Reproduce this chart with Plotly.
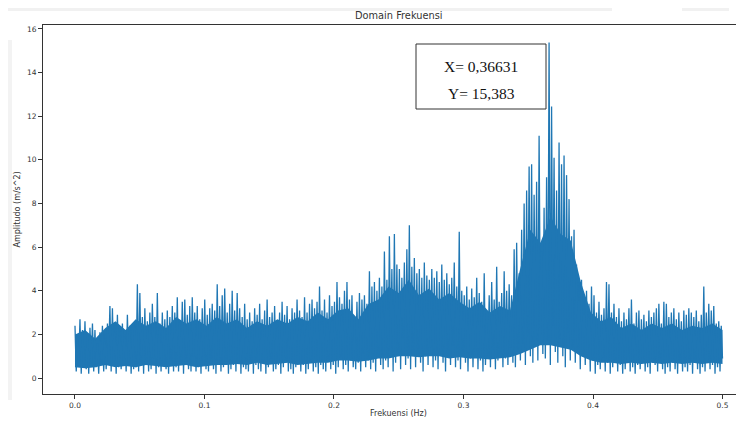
import plotly.graph_objects as go

# Upper (peak) amplitudes, left to right (m/s^2)
puncak = [
    2.4, 1.6, 2.7, 2.2,  2.6, 2.0, 2.3, 2.5,  2.2, 1.6, 2.1, 2.4,  2.0, 2.5, 3.3, 3.2,
    2.4, 2.9, 2.2, 2.5,  2.0, 2.9, 2.4, 2.2,  2.6, 4.3, 3.9, 2.8,  3.2, 2.6, 3.0, 3.4,
    2.8, 3.9, 2.5, 3.0,  2.7, 3.1, 2.8, 3.3,  3.0, 3.7, 2.6, 3.5,  3.6, 2.9, 3.3, 3.7,
    3.0, 3.3, 2.7, 3.2,  3.6, 2.9, 3.2, 3.4,  3.1, 4.3, 3.3, 3.8,  4.1, 3.0, 3.4, 4.0,
    3.1, 3.9, 3.2, 2.8,  3.4, 2.7, 3.0, 2.6,  3.2, 2.9, 3.4, 2.7,  3.1, 3.6, 2.8, 3.0,
    3.3, 2.6, 3.0, 3.5,  2.9, 3.3, 2.7, 3.2,  3.0, 3.6, 3.1, 2.8,  3.7, 3.0, 3.4, 3.6,
    3.2, 3.5, 4.2, 3.1,  3.6, 3.0, 3.8, 3.3,  3.5, 4.4, 3.7, 3.4,  4.0, 4.4, 3.6, 3.8,
    2.2, 3.5, 3.9, 3.6,  3.8, 3.4, 4.9, 4.2,  4.4, 4.0, 4.6, 4.2,  5.8, 4.5, 6.5, 5.0,
    6.6, 5.2, 5.0, 4.6,  5.3, 5.9, 7.0, 5.1,  5.5, 4.8, 5.0, 4.6,  5.3, 4.7, 4.5, 5.0,
    4.6, 4.9, 4.4, 5.2,  4.5, 4.8, 4.3, 4.6,  5.3, 4.2, 6.7, 4.0,  3.8, 4.2, 3.6, 4.1,
    3.7, 4.6, 3.9, 3.5,  4.8, 2.5, 3.8, 4.4,  3.6, 5.1, 3.5, 3.9,  4.9, 4.0, 4.3, 3.8,
    5.9, 6.2, 4.8, 6.8,  8.0, 8.6, 9.7, 9.8,  8.4, 9.0, 11.1, 5.8,  7.8, 9.2, 15.383, 12.45,
    10.1, 8.6, 10.8, 9.8,  10.2, 9.3, 8.2, 6.5,  6.8, 5.2, 4.4, 4.5,  3.6, 4.0, 3.4, 4.2,
    3.8, 3.0, 3.5, 2.9,  3.2, 4.4, 4.3, 3.0,  3.4, 2.8, 3.2, 2.6,  3.0, 2.7, 3.2, 3.6,
    2.5, 3.0, 3.1, 2.7,  2.9, 2.6, 3.1, 2.8,  3.0, 3.2, 3.4, 2.5,  3.5, 3.4, 2.8, 3.0,
    3.2, 2.7, 3.0, 2.6,  3.1, 2.9, 3.2, 3.0,  2.8, 3.1, 2.6, 2.9,  4.2, 3.0, 3.4, 3.1,
    3.3, 2.5, 2.6, 2.4,
]

# Lower (trough) amplitudes, left to right (m/s^2)
dasar = [
    0.3, 0.8, 0.2, 0.5,  0.4, 0.2, 0.6, 0.3,  0.5, 0.2, 0.7, 0.3,  0.4, 1.1, 0.3, 0.6,
    0.2, 0.5, 0.4, 0.8,  0.3, 0.6, 0.2, 0.4,  0.5, 0.3, 0.7, 0.2,  0.6, 0.3, 0.4, 0.9,
    0.2, 0.5, 0.3, 0.6,  0.4, 0.2, 0.8, 0.3,  0.5, 0.3, 0.6, 0.2,  0.7, 0.4, 0.3, 1.0,
    0.3, 0.5, 0.2, 0.6,  0.4, 0.3, 0.8, 0.4,  0.2, 0.6, 0.3, 0.5,  0.7, 0.2, 0.4, 0.6,
    0.3, 0.8, 0.2, 0.5,  0.4, 0.3, 0.7, 0.2,  0.6, 0.4, 0.3, 0.8,  0.2, 0.5, 0.9, 0.3,
    0.4, 0.6, 0.2, 0.5,  0.7, 0.3, 0.4, 0.2,  0.5, 0.8, 0.3, 0.6,  0.2, 0.4, 0.7, 0.3,
    0.5, 0.2, 0.6, 0.4,  0.3, 0.9, 0.4, 0.6,  0.2, 0.5, 1.0, 0.4,  0.6, 0.3, 0.8, 0.5,
    0.4, 0.7, 0.3, 1.1,  0.5, 0.8, 0.4, 0.7,  0.3, 1.0, 0.6, 0.4,  0.8, 0.5, 1.2, 0.3,
    0.7, 1.0, 0.4, 1.8,  0.6, 0.9, 0.4, 1.3,  0.5, 1.1, 0.7, 0.3,  1.0, 0.6, 1.4, 0.5,
    0.8, 0.4, 1.2, 0.7,  0.3, 1.0, 0.6, 1.5,  0.5, 0.8, 0.4, 1.1,  0.7, 0.3, 0.9, 0.5,
    1.2, 0.4, 0.8, 0.3,  0.6, 1.0, 0.5, 1.3,  0.4, 0.8, 1.1, 0.5,  0.9, 0.6, 1.4, 0.7,
    0.5, 1.2, 0.8, 1.6,  0.6, 1.9, 1.0, 0.7,  1.5, 0.8, 2.3, 1.1,  0.9, 1.7, 0.6, 2.4,
    1.2, 0.7, 1.8, 1.0,  0.5, 2.1, 0.8, 1.4,  0.7, 1.2, 0.4, 1.0,  0.6, 0.9, 0.3, 0.8,
    0.2, 0.6, 0.4, 0.9,  0.3, 0.7, 0.2, 0.5,  0.8, 0.3, 0.6, 0.2,  0.4, 1.0, 0.3, 0.5,
    0.2, 0.6, 0.4, 0.8,  0.3, 0.5, 0.2, 0.7,  0.6, 0.3, 0.9, 0.4,  0.2, 0.5, 0.3, 0.7,
    0.4, 0.2, 0.8, 0.3,  0.5, 0.3, 0.6, 0.2,  0.7, 0.4, 0.2, 0.5,  0.3, 0.8, 0.4, 0.6,
    0.2, 0.5, 0.3, 0.9,
]

# Top and bottom of the solid (densely overdrawn) core of the band, read per
# ~0.0077 Hz step from the picture (m/s^2)
inti_atas = [
    2.0, 2.2, 1.8,
    2.3, 2.6, 2.2, 2.7, 2.4, 2.6, 2.3, 2.8, 2.5, 2.7, 2.4,
    2.8, 2.5, 2.7, 2.3, 2.6, 2.4, 2.7, 2.5, 2.8, 2.6, 3.0, 2.7, 3.1,
    3.2, 2.7, 3.4,
    3.6, 4.2, 3.9, 4.5, 3.8, 4.1, 3.6, 3.9, 3.5,
    3.2, 3.5, 3.0, 3.3, 3.1,
    5.0, 6.8, 6.2, 7.4, 6.6, 6.3, 4.4,
    3.0, 2.6, 2.8, 2.3, 2.5, 2.2, 2.5, 2.3, 2.5, 2.2, 2.4, 2.3, 2.5, 2.2,
]
inti_bawah = [
    0.5, 0.45, 0.5, 0.6, 0.5, 0.55, 0.5, 0.6, 0.55, 0.5, 0.55, 0.6, 0.5, 0.55,
    0.6, 0.6, 0.65, 0.6, 0.7, 0.6, 0.65, 0.7, 0.6, 0.65, 0.7, 0.7, 0.8, 0.8, 0.75, 0.8,
    0.9, 0.9, 1.0, 1.0, 0.95, 1.0, 1.0, 0.9, 0.95, 0.9, 0.9, 0.85, 0.9, 0.95,
    1.1, 1.3, 1.5, 1.5, 1.4, 1.3, 1.0,
    0.8, 0.7, 0.7, 0.65, 0.7, 0.65, 0.7, 0.65, 0.7, 0.65, 0.7, 0.65, 0.7, 0.65,
]

x_ticks = [0.0, 0.1, 0.2, 0.3, 0.4, 0.5]
x_tick_labels = ["0.0", "0.1", "0.2", "0.3", "0.4", "0.5"]
y_ticks = [0, 2, 4, 6, 8, 10, 12, 14, 16]
y_tick_labels = ["0", "2", "4", "6", "8", "10", "12", "14", "16"]

# FFT spectrum: alternate peak / trough samples over evenly spaced bins 0..0.5 Hz
amplitudo = []
for p, d in zip(puncak, dasar):
    amplitudo.append(p)
    amplitudo.append(d)
n = len(amplitudo)
frekuensi = [0.5 * i / (n - 1) for i in range(n)]
m = len(inti_atas)
frek_inti = [0.5 * i / (m - 1) for i in range(m)]

BLUE = "#1f77b4"

# the page body has an 8px margin, so the figure is drawn 8px smaller
OFF = 8
FW, FH = 744 - OFF, 421 - OFF

fig = go.Figure()
fig.add_trace(go.Scatter(
    x=frek_inti, y=inti_bawah, mode="lines", line=dict(width=0, color=BLUE),
    hoverinfo="skip", showlegend=False,
))
fig.add_trace(go.Scatter(
    x=frek_inti, y=inti_atas, mode="lines", line=dict(width=0, color=BLUE),
    fill="tonexty", fillcolor=BLUE, hoverinfo="skip", showlegend=False,
))
fig.add_trace(go.Scatter(
    x=frekuensi, y=amplitudo, mode="lines",
    line=dict(color=BLUE, width=1.3),
    hoverinfo="skip", showlegend=False,
))

# plot-area edges in screen pixels of the reference
L, R, T, B = 43, 744, 25, 394
W = R - L
H = B - T


def px(xp):
    return (xp - L) / W


def py(yp):
    return (B - yp) / H


tickfont = dict(family="DejaVu Sans", size=7.5, color="#333333")

fig.update_layout(
    width=FW, height=FH,
    margin=dict(l=L - OFF, r=744 - R, t=T - OFF, b=421 - B, pad=0),
    paper_bgcolor="white", plot_bgcolor="white",
    xaxis=dict(
        range=[-0.0247, 0.5166], tickvals=x_ticks, ticktext=x_tick_labels,
        showgrid=False, zeroline=False, showline=True, mirror=True,
        linecolor="#333333", linewidth=1, ticks="outside", ticklen=4,
        tickcolor="#333333", tickwidth=1, tickfont=tickfont,
    ),
    yaxis=dict(
        range=[-0.73, 16.18], tickvals=y_ticks, ticktext=y_tick_labels,
        showgrid=False, zeroline=False, showline=True, mirror=False,
        linecolor="#333333", linewidth=1, ticks="outside", ticklen=4,
        tickcolor="#333333", tickwidth=1, tickfont=tickfont,
    ),
    shapes=[
        # faint watermark bands in the page margin
        dict(type="rect", xref="paper", yref="paper", x0=px(8), x1=px(612),
             y0=py(11), y1=py(8), fillcolor="#f1f1f1", line=dict(width=0), layer="below"),
        dict(type="rect", xref="paper", yref="paper", x0=px(682), x1=px(729),
             y0=py(11), y1=py(8), fillcolor="#f1f1f1", line=dict(width=0), layer="below"),
        dict(type="rect", xref="paper", yref="paper", x0=px(8), x1=px(12),
             y0=py(400), y1=py(40), fillcolor="#f3f3f3", line=dict(width=0), layer="below"),
        # annotation box
        dict(type="rect", xref="paper", yref="paper", x0=px(416), x1=px(546),
             y0=py(109), y1=py(44), fillcolor="white",
             line=dict(color="#333333", width=1), layer="above"),
    ],
    annotations=[
        dict(text="Domain Frekuensi", xref="paper", yref="paper",
             x=px(398.5), y=py(16), xanchor="center", yanchor="middle", showarrow=False,
             font=dict(family="DejaVu Sans", size=9.8, color="#333333")),
        dict(text="Frekuensi (Hz)", xref="paper", yref="paper",
             x=px(398.5), y=py(413), xanchor="center", yanchor="middle", showarrow=False,
             font=dict(family="DejaVu Sans", size=8, color="#333333")),
        dict(text="Amplitudo (m/s^2)", xref="paper", yref="paper",
             x=px(17), y=py(209.5), xanchor="center", yanchor="middle", showarrow=False,
             textangle=-90, font=dict(family="DejaVu Sans", size=8, color="#333333")),
        dict(text="X= 0,36631", xref="paper", yref="paper",
             x=px(481), y=py(66), xanchor="center", yanchor="middle", showarrow=False,
             font=dict(family="Liberation Serif", size=15.5, color="#111111")),
        dict(text="Y= 15,383", xref="paper", yref="paper",
             x=px(481), y=py(93), xanchor="center", yanchor="middle", showarrow=False,
             font=dict(family="Liberation Serif", size=15.5, color="#111111")),
    ],
)

fig.write_html("out.html")
